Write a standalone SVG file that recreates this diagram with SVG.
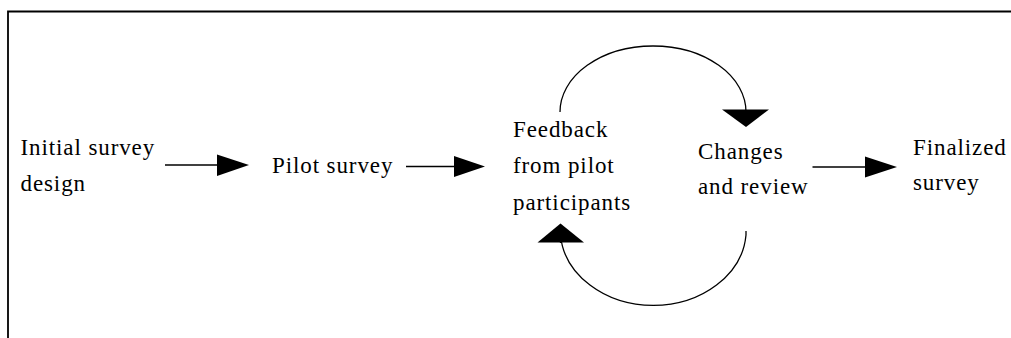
<svg xmlns="http://www.w3.org/2000/svg" width="1011" height="338" viewBox="0 0 1011 338">
<style>
text{font-family:"Liberation Serif","Times New Roman",serif;font-size:23px;letter-spacing:0.9px;fill:#000}
.ln{stroke:#000;stroke-width:1.4;fill:none}
.arc{stroke:#000;stroke-width:1.3;fill:none}
.hd{fill:#000;stroke:none}
</style>
<rect width="1011" height="338" fill="#fff"/>
<path d="M8,338 V11.5 H1011" stroke="#000" stroke-width="1.8" fill="none"/>
<g id="n1"><text x="20.5" y="155">Initial survey</text><text x="20.5" y="191">design</text></g>
<g id="n2"><text x="272" y="172.5">Pilot survey</text></g>
<g id="n3"><text x="513" y="136.5">Feedback</text><text x="513" y="173">from pilot</text><text x="513" y="209.5">participants</text></g>
<g id="n4"><text x="698" y="158.5">Changes</text><text x="698" y="194">and review</text></g>
<g id="n5"><text x="913" y="155">Finalized</text><text x="913" y="190">survey</text></g>
<g id="connectors">
<line class="ln" x1="165" y1="165" x2="218" y2="165"/>
<polygon class="hd" points="217,154.5 249,165 217,176"/>
<line class="ln" x1="406" y1="166.5" x2="455" y2="166.5"/>
<polygon class="hd" points="454,156 485,166.5 454,177"/>
<line class="ln" x1="812.5" y1="167" x2="866" y2="167"/>
<polygon class="hd" points="865,156.5 897,167 865,177.5"/>
<path class="arc" d="M560,112 A93,66 0 0 1 746,112"/>
<polygon class="hd" points="722,109.5 769,109.5 746,127"/>
<path class="arc" d="M746,231 L746,235 A93,76 0 0 1 560.5,235 L560.5,243"/>
<polygon class="hd" points="537.5,242.5 584,242.5 560.5,223.5"/>
</g>
</svg>
